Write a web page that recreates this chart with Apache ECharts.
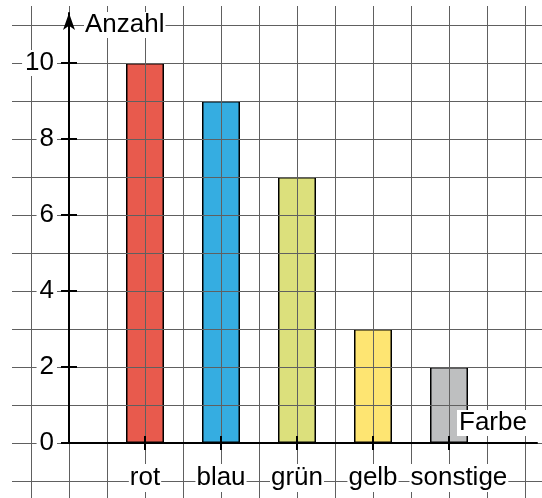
<!DOCTYPE html>
<html>
<head>
<meta charset="utf-8">
<script src="https://cdn.jsdelivr.net/npm/echarts@6/dist/echarts.min.js"></script>
<style>
  html, body { margin: 0; padding: 0; background: #fff; }
  #main { width: 542px; height: 498px; }
</style>
</head>
<body>
<div id="main"></div>
<script type="text/javascript">
// Daten
var farben = ['rot', 'blau', 'grün', 'gelb', 'sonstige'];
var anzahl = [10, 9, 7, 3, 2];
var balkenFarben = ['#e85a4d', '#35ade1', '#dce07c', '#fee572', '#bebfc0'];
var yTicks = [0, 2, 4, 6, 8, 10];

// jede Kategorie sitzt auf jeder zweiten Kaestchenlinie
var xPos = farben.map(function (f, i) { return 2 * (i + 1); });
var letzte = farben.length - 1;

var chart = echarts.init(document.getElementById('main'));

var gitter = { show: true, lineStyle: { color: '#606060', width: 1 } };
var schrift = 'Liberation Sans, Arial, sans-serif';
var xLabel = {
  hideOverlap: false, color: '#000', fontSize: 26, fontFamily: schrift,
  margin: 21, lineHeight: 28, backgroundColor: '#fff', padding: [0, 1]
};

chart.setOption({
  animation: false,
  grid: [
    { left: 69, top: 13, width: 468, height: 430 },   // Achsen + Balken
    { left: 31, top: 6, width: 494, bottom: 0 },      // senkrechte Kaestchenlinien
    { left: 12, right: 0, top: 25, height: 456 }      // waagerechte Kaestchenlinien
  ],
  xAxis: [
    {
      type: 'value', gridIndex: 0, min: 0, max: 468 / 38, z: 4,
      axisLine: { onZero: false, lineStyle: { color: '#000', width: 2 } },
      axisTick: { customValues: xPos, length: 7, lineStyle: { color: '#000', width: 2 } },
      axisLabel: Object.assign({
        customValues: xPos.slice(0, letzte),
        formatter: function (v) { return farben[xPos.indexOf(v)] || ''; }
      }, xLabel),
      splitLine: { show: false },
      name: '{a|Farbe}', nameLocation: 'end', nameGap: -80,
      nameTextStyle: {
        align: 'left', verticalAlign: 'bottom', padding: [0, 0, 7, 0],
        rich: { a: { color: '#000', fontSize: 26, fontFamily: schrift, backgroundColor: '#fff', padding: [0, 2], lineHeight: 26 } }
      }
    },
    {
      // Innenstriche; traegt auch das etwas nach rechts versetzte letzte Wort
      type: 'value', gridIndex: 0, min: 0, max: 468 / 38, position: 'bottom', z: 4,
      axisLine: { show: false, onZero: false },
      axisTick: { customValues: xPos, inside: true, length: 7, lineStyle: { color: '#000', width: 2 } },
      axisLabel: Object.assign({
        customValues: [xPos[letzte] + 0.26],
        formatter: function () { return farben[letzte]; }
      }, xLabel),
      splitLine: { show: false }
    },
    {
      type: 'value', gridIndex: 1, min: -1, max: 12, interval: 1, z: 3,
      axisLine: { show: false }, axisTick: { show: false }, axisLabel: { show: false },
      splitLine: gitter
    },
    {
      type: 'value', gridIndex: 2, min: 0, max: 1, show: false
    }
  ],
  yAxis: [
    {
      type: 'value', gridIndex: 0, min: 0, max: 430 / 38, z: 4,
      axisLine: { show: true, onZero: false, symbol: ['none', 'arrow'], symbolSize: [9, 17],
        lineStyle: { color: '#000', width: 2 } },
      axisTick: { customValues: yTicks, length: 8, lineStyle: { color: '#000', width: 2 } },
      axisLabel: {
        customValues: yTicks,
        color: '#000', fontSize: 26, fontFamily: schrift, margin: 12,
        backgroundColor: '#fff', padding: [0, 3]
      },
      splitLine: { show: false },
      name: '{a|Anzahl}', nameLocation: 'end', nameGap: -12,
      nameTextStyle: {
        align: 'left', verticalAlign: 'middle', padding: [0, 0, 0, 15],
        rich: { a: { color: '#000', fontSize: 26, fontFamily: schrift, backgroundColor: '#fff', padding: [0, 1], lineHeight: 26 } }
      }
    },
    {
      type: 'value', gridIndex: 0, min: 0, max: 430 / 38, position: 'left', z: 4,
      axisLine: { show: false, onZero: false },
      axisTick: { customValues: yTicks, inside: true, length: 8, lineStyle: { color: '#000', width: 2 } },
      axisLabel: { show: false }, splitLine: { show: false }
    },
    {
      type: 'value', gridIndex: 1, min: 0, max: 1, show: false
    },
    {
      type: 'value', gridIndex: 2, min: -1, max: 11, interval: 1, z: 3,
      axisLine: { show: false }, axisTick: { show: false }, axisLabel: { show: false },
      splitLine: gitter
    }
  ],
  series: [{
    type: 'bar',
    xAxisIndex: 0,
    yAxisIndex: 0,
    barWidth: 38,
    data: anzahl.map(function (v, i) {
      return {
        value: [xPos[i], v],
        itemStyle: { color: balkenFarben[i], borderColor: '#000', borderWidth: 1.5 }
      };
    })
  }]
});
</script>
</body>
</html>
